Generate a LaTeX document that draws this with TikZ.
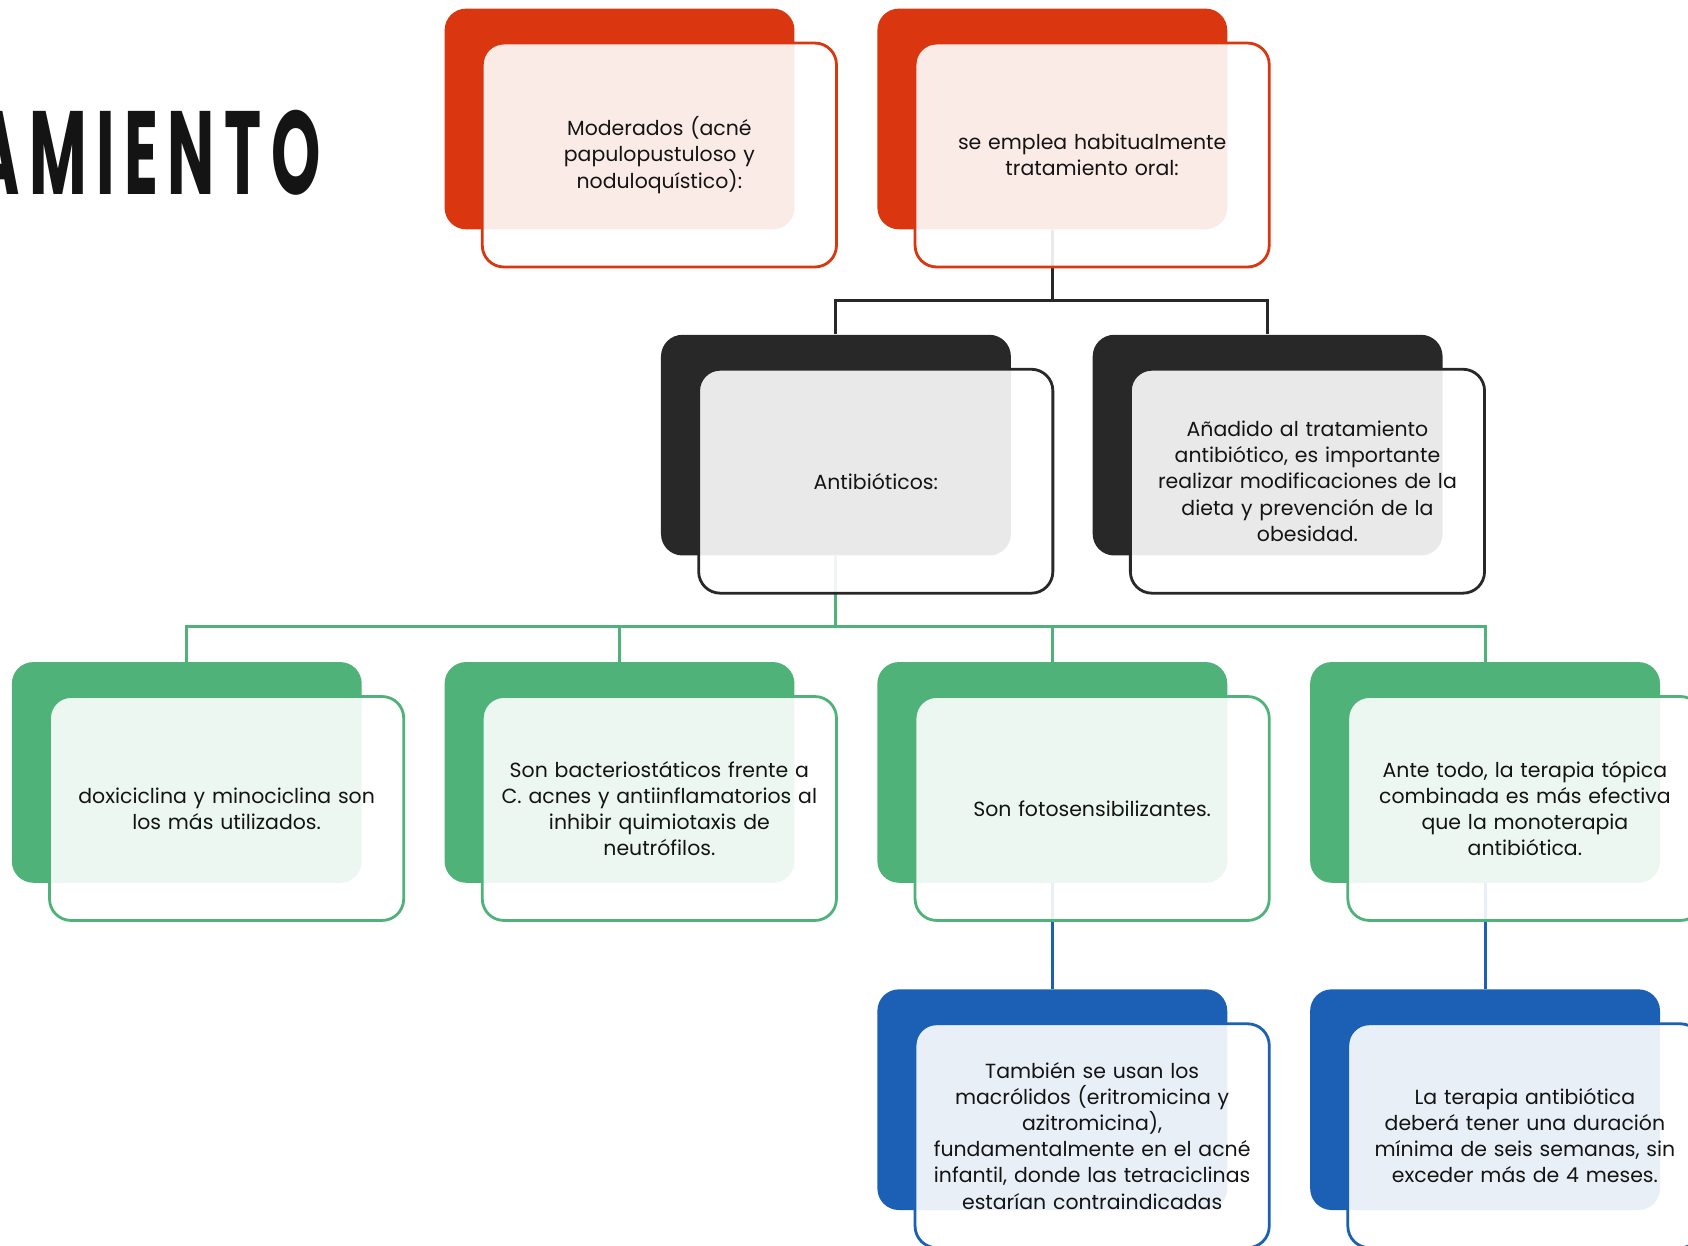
\documentclass[tikz,border=0pt]{standalone}
\usepackage{fontspec}
\setmainfont{Poppins}
\newfontfamily\titlefont[FakeStretch=0.53,LetterSpace=8]{Poppins}
\usepackage{tikz}
\definecolor{cardred}{RGB}{218,54,16}
\definecolor{carddark}{RGB}{40,40,40}
\definecolor{cardgreen}{RGB}{79,178,120}
\definecolor{cardblue}{RGB}{27,96,181}
\definecolor{inktext}{RGB}{20,20,20}
\tikzset{
  card back/.style={
    rounded corners=10pt, inner sep=0pt,
    minimum width=162.5pt, minimum height=102.5pt,
    fill=#1, draw=none
  },
  card front/.style={
    rounded corners=10pt, inner sep=0pt,
    minimum width=164.5pt, minimum height=104pt,
    draw=#1, line width=1.3pt,
    fill=white, fill opacity=0.9, draw opacity=1, text opacity=1,
    text width=160pt, align=center, text=inktext,
    font=\fontsize{9.5}{12.15}\selectfont
  },
  link/.style={
    draw=#1, line width=1.4pt
  }
}

\begin{document}
\begin{tikzpicture}[x=0.5pt,y=0.5pt,yscale=-1,xscale=1]
\useasboundingbox (0,0) rectangle (1568,1157);
\clip (0,0) rectangle (1568,1157);

% Title Node
\node [anchor=base east, inner sep=0pt, text=inktext] (title) at (298,181)
  {\titlefont\bfseries\fontsize{55}{60}\selectfont AMIENTO};

%Shape: back cards [id:level 1]
\node [card back=cardred] (moderados back) at (575.5,110.5) {};
\node [card back=cardred] (oral back) at (977.5,110.5) {};
%Shape: back cards [id:level 2]
\node [card back=carddark] (antibioticos back) at (776.5,413.5) {};
\node [card back=carddark] (dieta back) at (1177.5,413.5) {};
%Shape: back cards [id:level 3]
\node [card back=cardgreen] (doxi back) at (173.5,717.5) {};
\node [card back=cardgreen] (bacterio back) at (575.5,717.5) {};
\node [card back=cardgreen] (foto back) at (977.5,717.5) {};
\node [card back=cardgreen] (topica back) at (1379.5,717.5) {};
%Shape: back cards [id:level 4]
\node [card back=cardblue] (macrolidos back) at (977.5,1021.5) {};
\node [card back=cardblue] (duracion back) at (1379.5,1021.5) {};

%Straight Lines [id:tree]
\draw [link=carddark] (oral back.south) -- ++(0,66) -| (antibioticos back.north);
\draw [link=carddark] (oral back.south) -- ++(0,66) -| (dieta back.north);
\draw [link=cardgreen] (antibioticos back.south) -- ++(0,66) -| (doxi back.north);
\draw [link=cardgreen] (antibioticos back.south) -- ++(0,66) -| (bacterio back.north);
\draw [link=cardgreen] (antibioticos back.south) -- ++(0,66) -| (foto back.north);
\draw [link=cardgreen] (antibioticos back.south) -- ++(0,66) -| (topica back.north);
\draw [link=cardblue] (foto back.south) -- (macrolidos back.north);
\draw [link=cardblue] (topica back.south) -- (duracion back.north);

% Text Node
\node [card front=cardred] (moderados) at (612.5,144)
  {Moderados (acné\\ papulopustuloso y\\ noduloquístico):};
% Text Node
\node [card front=cardred] (oral) at (1014.5,144)
  {se emplea habitualmente\\ tratamiento oral:};
% Text Node
\node [card front=carddark] (antibioticos) at (813.5,447)
  {Antibióticos:};
% Text Node
\node [card front=carddark] (dieta) at (1214.5,447)
  {Añadido al tratamiento\\ antibiótico, es importante\\ realizar modificaciones de la\\ dieta y prevención de la\\ obesidad.};
% Text Node
\node [card front=cardgreen] (doxi) at (210.5,751)
  {doxiciclina y minociclina son\\ los más utilizados.};
% Text Node
\node [card front=cardgreen] (bacterio) at (612.5,751)
  {Son bacteriostáticos frente a\\ C. acnes y antiinflamatorios al\\ inhibir quimiotaxis de\\ neutrófilos.};
% Text Node
\node [card front=cardgreen] (foto) at (1014.5,751)
  {Son fotosensibilizantes.};
% Text Node
\node [card front=cardgreen] (topica) at (1416.5,751)
  {Ante todo, la terapia tópica\\ combinada es más efectiva\\ que la monoterapia\\ antibiótica.};
% Text Node
\node [card front=cardblue] (macrolidos) at (1014.5,1055)
  {También se usan los\\ macrólidos (eritromicina y\\ azitromicina),\\ fundamentalmente en el acné\\ infantil, donde las tetraciclinas\\ estarían contraindicadas};
% Text Node
\node [card front=cardblue] (duracion) at (1416.5,1055)
  {La terapia antibiótica\\ deberá tener una duración\\ mínima de seis semanas, sin\\ exceder más de 4 meses.};

\end{tikzpicture}
\end{document}
